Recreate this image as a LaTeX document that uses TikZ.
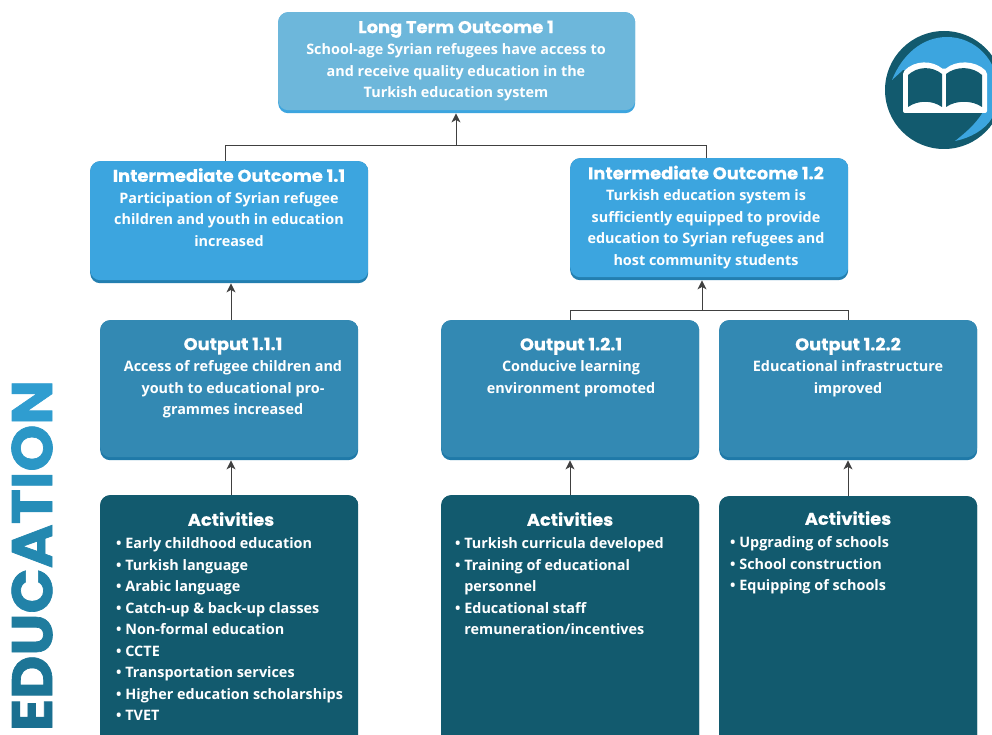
\documentclass[tikz,border=0pt]{standalone}
\usepackage{fontspec}
\setmainfont{Open Sans}
\newfontfamily\headfont{Poppins}[UprightFont=* Bold,BoldFont=* Bold,FakeStretch=1.05,FakeBold=0.5]
\newfontfamily\sidefont{Poppins}[UprightFont=* Bold,FakeStretch=1.045,FakeBold=1.2]
\usetikzlibrary{arrows.meta}
\definecolor{ltomain}{HTML}{6DB7DB}
\definecolor{ltostrip}{HTML}{3DA5DF}
\definecolor{iomain}{HTML}{3CA5DF}
\definecolor{iostrip}{HTML}{237FB0}
\definecolor{outmain}{HTML}{3389B3}
\definecolor{outstrip}{HTML}{1F79A8}
\definecolor{actmain}{HTML}{125A6E}
\definecolor{linecol}{HTML}{404040}
\newcommand{\hd}[1]{{\headfont\fontsize{17}{21.5}\selectfont #1}}
\tikzset{
  x=1pt,y=-1pt,
  boxbase/.style n args={2}{draw=none,fill=#2,rounded corners=10pt,inner sep=0pt,anchor=north west,
    path picture={\fill[#1,rounded corners=10pt] ([yshift=3pt]path picture bounding box.south west) rectangle (path picture bounding box.north east);}},
  boxtext/.style={text=white,align=center,anchor=north,inner sep=0pt,font=\bfseries\fontsize{14.4}{21.5}\selectfont},
  listtext/.style={text=white,align=left,anchor=north west,inner sep=0pt,font=\bfseries\fontsize{14.4}{21.5}\selectfont},
  conn/.style={draw=linecol,line width=1pt},
  arr/.style={conn,-{Stealth[length=9pt,width=9pt,inset=2.5pt]}},
}
\begin{document}
\begin{tikzpicture}
\useasboundingbox (0,0) rectangle (992,735);
\clip (0,0) rectangle (992,735);
\fill[white] (0,0) rectangle (992,735);
% boxes
\node[boxbase={ltomain}{ltostrip},minimum width=357pt,minimum height=101pt] (lto) at (278,12) {};
\node[boxbase={iomain}{iostrip},minimum width=278pt,minimum height=122pt] (io11) at (90,161) {};
\node[boxbase={iomain}{iostrip},minimum width=278pt,minimum height=122pt] (io12) at (570,158) {};
\node[boxbase={outmain}{outstrip},minimum width=258pt,minimum height=140pt] (o111) at (100,320) {};
\node[boxbase={outmain}{outstrip},minimum width=258pt,minimum height=140pt] (o121) at (441,320) {};
\node[boxbase={outmain}{outstrip},minimum width=258pt,minimum height=140pt] (o122) at (719,320) {};
\node[boxbase={actmain}{actmain},minimum width=258pt,minimum height=260pt] (a111) at (100,495) {};
\node[boxbase={actmain}{actmain},minimum width=258pt,minimum height=260pt] (a121) at (441,495) {};
\node[boxbase={actmain}{actmain},minimum width=258pt,minimum height=260pt] (a122) at (719,496) {};
% connectors
\coordinate (j1) at (456,146);
\coordinate (j1l) at (225,146);
\coordinate (j1r) at (706,146);
\coordinate (j2) at (702,310);
\coordinate (j2l) at (570,310);
\coordinate (j2r) at (848,310);
\draw[conn] (j1l|-io11.north) -- (j1l) -- (j1r) -- (j1r|-io12.north);
\draw[arr] (j1) -- (j1|-lto.south);
\draw[arr] (231,0|-o111.north) -- (231,0|-io11.south);
\draw[conn] (j2l|-o121.north) -- (j2l) -- (j2r) -- (j2r|-o122.north);
\draw[arr] (j2) -- (j2|-io12.south);
\draw[arr] (231,0|-a111.north) -- (231,0|-o111.south);
\draw[arr] (570,0|-a121.north) -- (570,0|-o121.south);
\draw[arr] (848,0|-a122.north) -- (848,0|-o122.south);
% texts
\node[boxtext] (tlto) at (456,20.5) {\hd{Long Term Outcome 1}\\School-age Syrian refugees have access to\\and receive quality education in the\\Turkish education system};
\node[boxtext] (tio11) at (229,168) {\hd{Intermediate Outcome 1.1}\\Participation of Syrian refugee\\children and youth in education\\increased};
\node[boxtext] (tio12) at (706,165.5) {\hd{Intermediate Outcome 1.2}\\Turkish education system is\\sufficiently equipped to provide\\education to Syrian refugees and\\host community students};
\node[boxtext] (to111) at (233,337.5) {\hd{Output 1.1.1}\\Access of refugee children and\\youth to educational pro-\\grammes increased};
\node[boxtext] (to121) at (571,337.5) {\hd{Output 1.2.1}\\Conducive learning\\environment promoted};
\node[boxtext] (to122) at (848,337.5) {\hd{Output 1.2.2}\\Educational infrastructure\\improved};
\node[boxtext] (ta111) at (231,512) {\hd{Activities}};
\node[boxtext] (ta121) at (570,512) {\hd{Activities}};
\node[boxtext] (ta122) at (848,511) {\hd{Activities}};
\node[listtext] (l111) at (116,537.5) {• Early childhood education\\• Turkish language\\• Arabic language\\• Catch-up \& back-up classes\\• Non-formal education\\• CCTE\\• Transportation services\\• Higher education scholarships\\• TVET};
\node[listtext] (l121) at (455,537.5) {• Turkish curricula developed\\• Training of educational\\\hphantom{• }personnel\\• Educational staff\\\hphantom{• }remuneration/incentives};
\node[listtext] (l122) at (730,536.5) {• Upgrading of schools\\• School construction\\• Equipping of schools};
% side title
\node[rotate=90,inner sep=0pt,anchor=center,font=\sidefont\fontsize{57}{57}\selectfont] (edu) at (32,555.5) {\textcolor[HTML]{1A6F90}{E}\textcolor[HTML]{1C7596}{D}\textcolor[HTML]{1F7C9E}{U}\textcolor[HTML]{2182A8}{C}\textcolor[HTML]{2388B0}{A}\textcolor[HTML]{258DB8}{T}\textcolor[HTML]{2892BF}{I}\textcolor[HTML]{2B97C6}{O}\textcolor[HTML]{2F9DD0}{N}};
% icon
\fill[actmain] (944,90) circle (59);
\fill[iomain] (892,80) .. controls (902,55) and (922,37) .. (947,37) .. controls (975,37) and (998,60) .. (998,90) -- (998,112) -- (992,118) .. controls (985,130) and (970,138) .. (955,141) .. controls (965,133) and (975,125) .. (983,112) -- (985,70) -- (903,70) -- cycle;
\fill[white,rounded corners=2pt] (903,113) -- (903,72) .. controls (915,60) and (932,60) .. (944,70) .. controls (956,60) and (975,60) .. (987,72) -- (987,113) -- cycle;
\fill[actmain] (908,107) -- (908,75) .. controls (918,66) and (932,66) .. (942,74) -- (942,107) .. controls (932,100) and (918,100) .. (908,107) -- cycle;
\fill[actmain] (946,107) -- (946,74) .. controls (956,66) and (972,66) .. (982,75) -- (982,107) .. controls (972,100) and (956,100) .. (946,107) -- cycle;
\end{tikzpicture}
\end{document}
